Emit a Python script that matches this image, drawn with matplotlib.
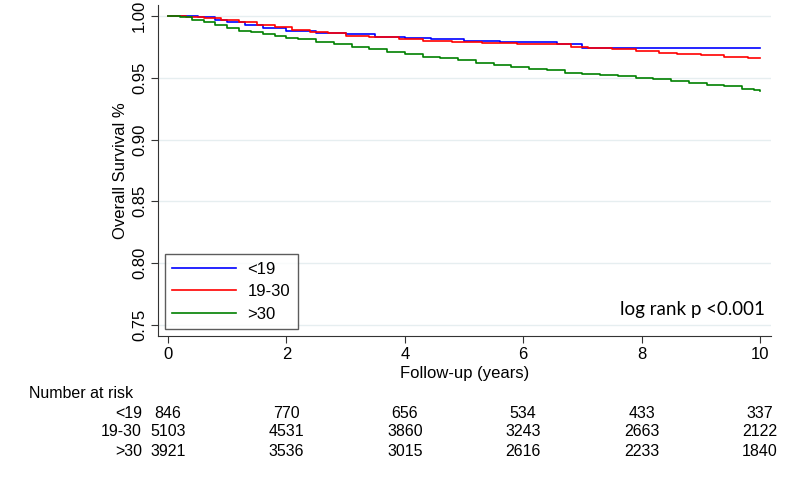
import matplotlib
matplotlib.use("Agg")
import matplotlib.pyplot as plt

# --- Data ---
groups = ["<19", "19-30", ">30"]
colors = ["#0000ff", "#ff0000", "#008000"]

t_lt19 = [0, 0.5, 0.8, 1.0, 1.3, 1.6, 2.0, 2.5, 3.0, 3.5, 4.0, 4.45, 5.0, 5.6, 6.57, 7.0, 10]
s_lt19 = [1.0, 0.9995, 0.997, 0.995, 0.993, 0.990, 0.988, 0.986, 0.985, 0.983, 0.982, 0.981, 0.980, 0.979, 0.9775, 0.974, 0.974]

t_1930 = [0, 0.3, 0.6, 0.9, 1.2, 1.5, 1.8, 2.1, 2.4, 2.7, 3.0, 3.4, 3.9, 4.3, 4.8, 5.3, 5.9, 6.4, 6.8, 7.1, 7.5, 7.9, 8.3, 8.6, 9.0, 9.4, 9.8, 10]
s_1930 = [1.0, 0.9995, 0.998, 0.997, 0.995, 0.993, 0.991, 0.989, 0.987, 0.986, 0.984, 0.983, 0.981, 0.980, 0.979, 0.978, 0.9775, 0.977, 0.975, 0.974, 0.973, 0.972, 0.970, 0.969, 0.968, 0.967, 0.966, 0.966]

t_gt30 = [0, 0.2, 0.4, 0.6, 0.8, 1.0, 1.2, 1.4, 1.6, 1.8, 2.0, 2.2, 2.5, 2.8, 3.1, 3.4, 3.7, 4.0, 4.3, 4.6, 4.9, 5.2, 5.5, 5.8, 6.1, 6.4, 6.7, 7.0, 7.3, 7.6, 7.9, 8.2, 8.5, 8.8, 9.1, 9.4, 9.7, 9.9, 10]
s_gt30 = [1.0, 0.999, 0.997, 0.995, 0.993, 0.990, 0.988, 0.987, 0.985, 0.984, 0.982, 0.981, 0.979, 0.977, 0.975, 0.973, 0.971, 0.969, 0.967, 0.966, 0.964, 0.962, 0.960, 0.959, 0.957, 0.956, 0.954, 0.953, 0.952, 0.951, 0.950, 0.949, 0.947, 0.946, 0.944, 0.943, 0.941, 0.940, 0.9395]

risk_times = [0, 2, 4, 6, 8, 10]
risk_lt19 = [846, 770, 656, 534, 433, 337]
risk_1930 = [5103, 4531, 3860, 3243, 2663, 2122]
risk_gt30 = [3921, 3536, 3015, 2616, 2233, 1840]

yticks = [0.75, 0.80, 0.85, 0.90, 0.95, 1.00]
xticks = [0, 2, 4, 6, 8, 10]

plt.rcParams['font.family'] = ['Liberation Sans', 'DejaVu Sans']

fig = plt.figure(figsize=(8, 4.8), dpi=100)
ax = fig.add_axes([0.1975, 0.30, 0.7665, 0.69])

curves = [(t_lt19, s_lt19), (t_1930, s_1930), (t_gt30, s_gt30)]
for (t, s), name, c in zip(curves, groups, colors):
    ax.step(t, s, where="post", color=c, lw=1.2, label=name)

ax.set_xlim(-0.17, 10.19)
ax.set_ylim(0.741, 1.009)
ax.set_yticks(yticks)
ax.set_yticklabels([f"{v:.2f}" for v in yticks], rotation=90, va="center")
ax.set_xticks(xticks)
ax.tick_params(labelsize=12, length=5, color="#333333", pad=3)
ax.grid(axis="y", color="#e6eef0", lw=1)
ax.set_axisbelow(True)
for side in ["top", "right"]:
    ax.spines[side].set_visible(False)
for side in ["left", "bottom"]:
    ax.spines[side].set_color("#333333")

ax.set_ylabel("Overall Survival %", fontsize=12, labelpad=3)
ax.set_xlabel("Follow-up (years)", fontsize=12, labelpad=3)

leg = ax.legend(loc="lower left", bbox_to_anchor=(0.0114, 0.021), borderaxespad=0,
                fontsize=12, fancybox=False, edgecolor="#333333", handlelength=3.8,
                borderpad=0.45, labelspacing=0.44, handletextpad=0.7)
leg.get_frame().set_linewidth(1.0)

ax.text(0.99, 0.055, "log rank p <0.001", transform=ax.transAxes, ha="right",
        va="bottom", fontsize=13.5, family=["Lato", "DejaVu Sans"])

# --- Number at risk table ---
fig.text(0.036, (480 - 394) / 480, "Number at risk", fontsize=11.5, va="center")
rows = [risk_lt19, risk_1930, risk_gt30]
row_y = [(480 - 413) / 480, (480 - 432) / 480, (480 - 451) / 480]
for name, counts, yy in zip(groups, rows, row_y):
    fig.text(0.1775, yy, name, ha="right", va="center", fontsize=11.5)
    for tt, n in zip(risk_times, counts):
        xf = fig.transFigure.inverted().transform(ax.transData.transform((tt, 0)))[0]
        fig.text(xf, yy, str(n), ha="center", va="center", fontsize=11.5)

fig.savefig("out.png", dpi=100)
